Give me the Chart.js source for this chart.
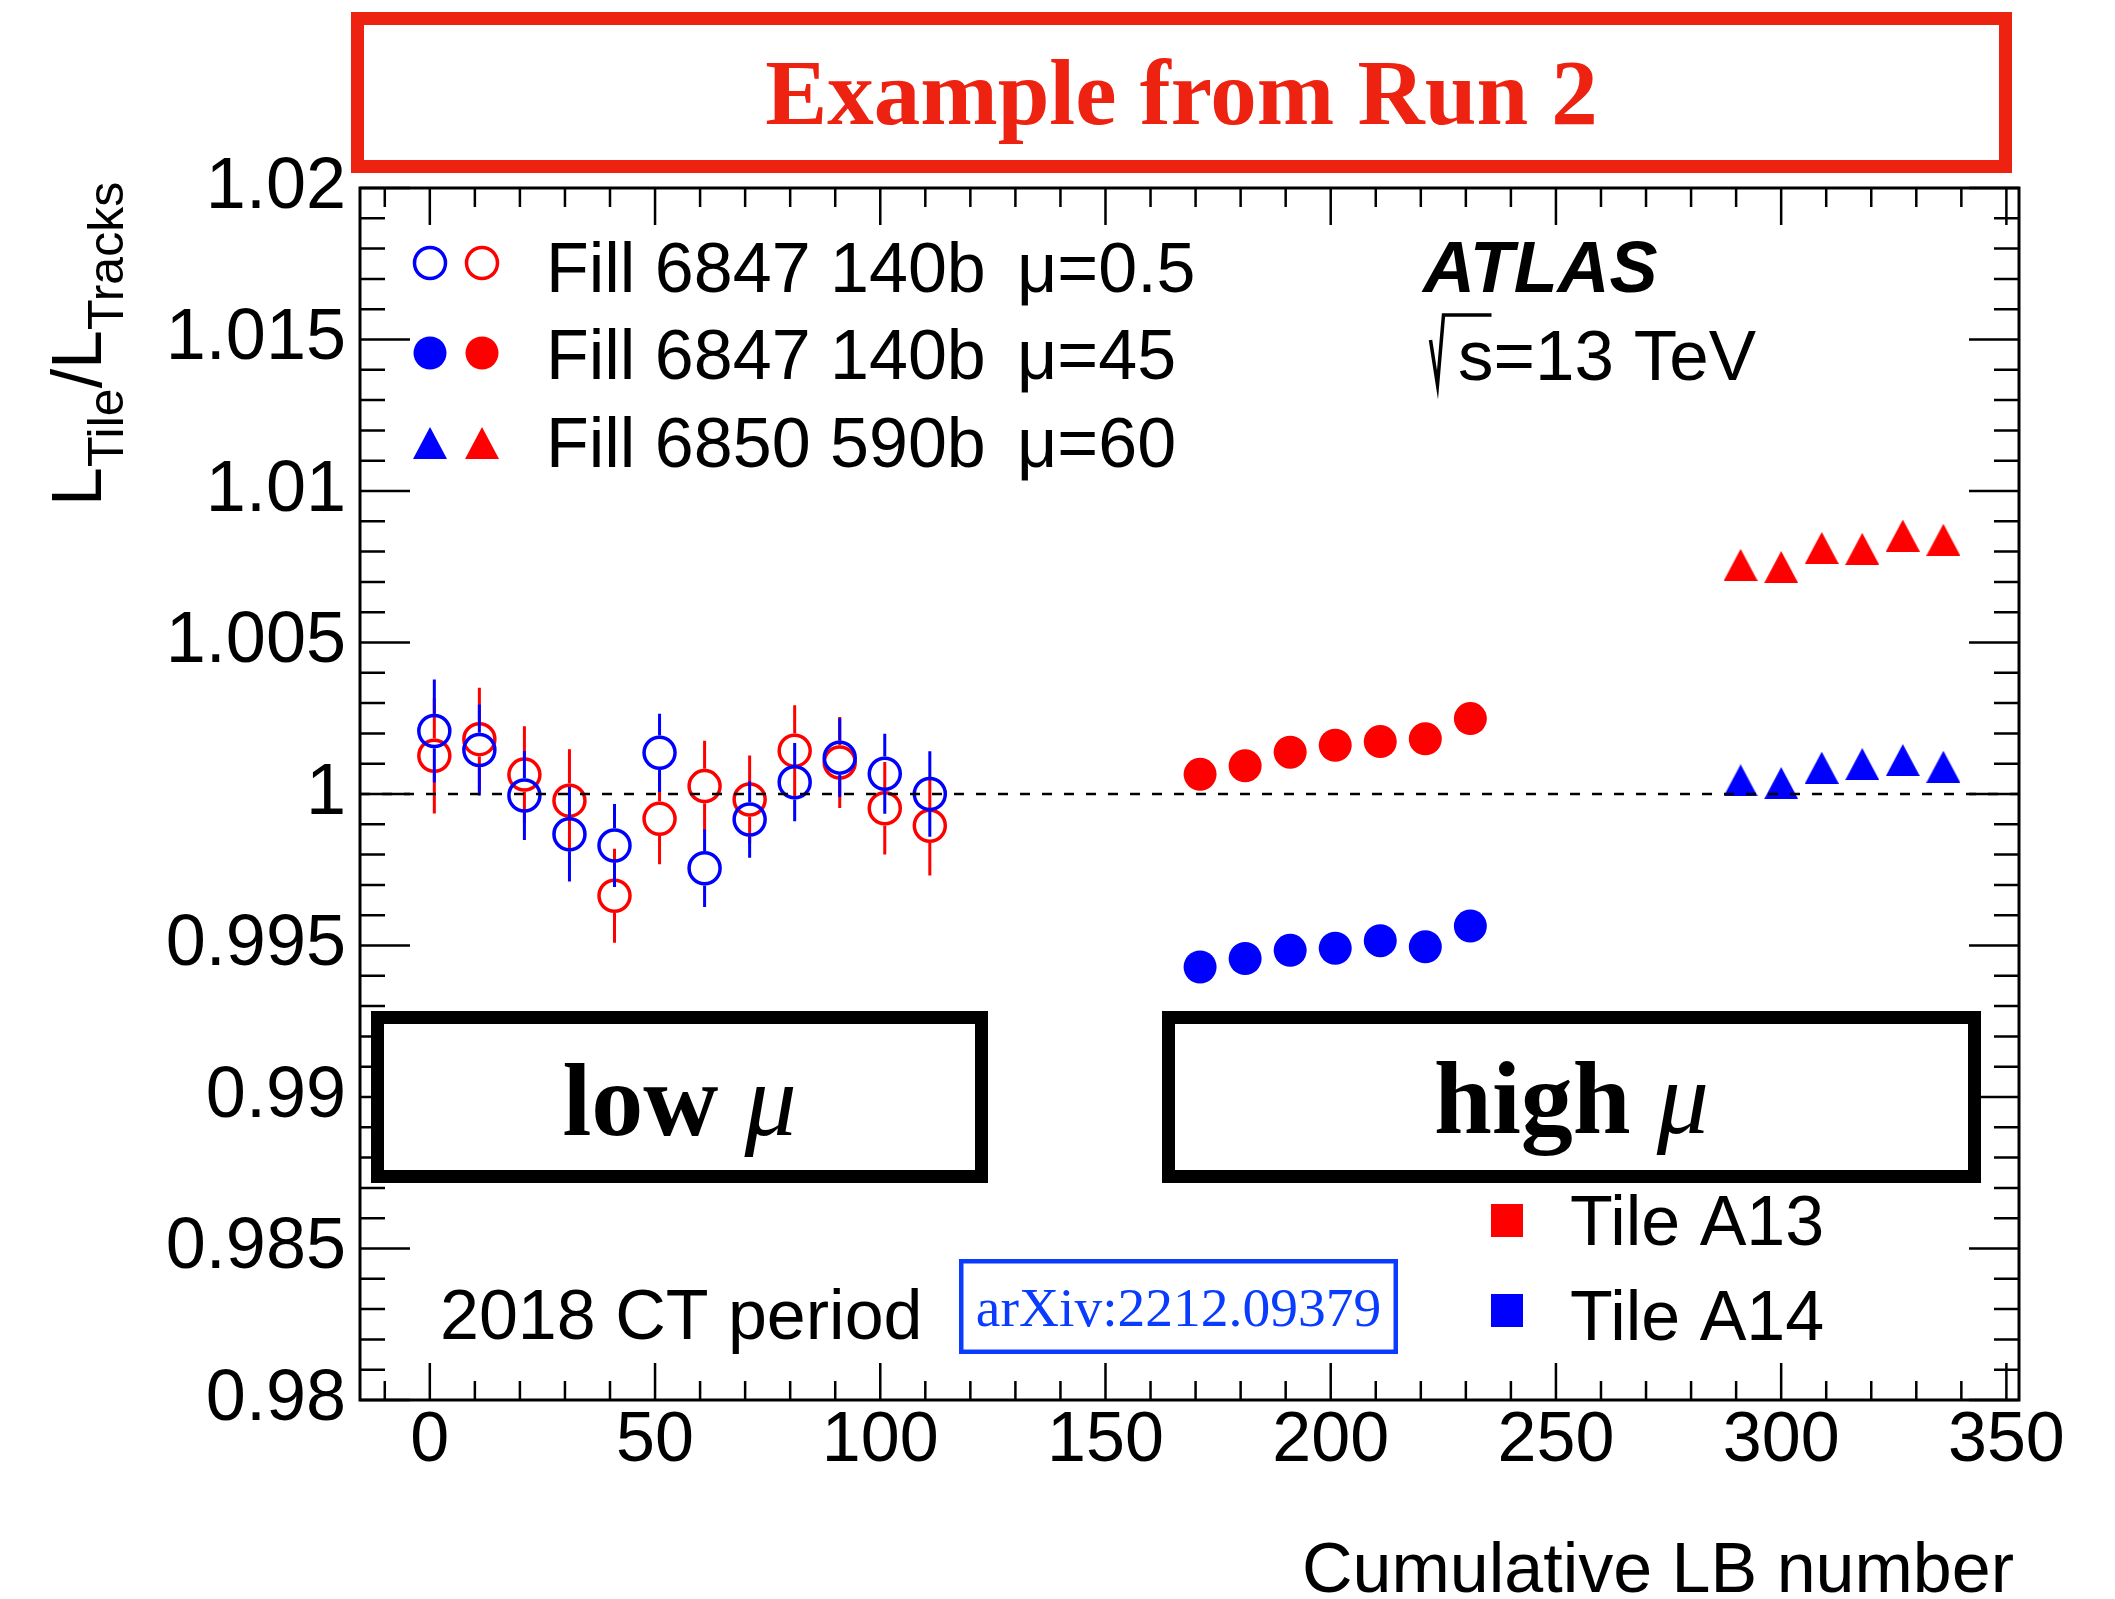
<!DOCTYPE html>
<html>
<head>
<meta charset="utf-8">
<script src="https://cdn.jsdelivr.net/npm/chart.js@4.4.0/dist/chart.umd.min.js"></script>
<style>
  html, body { margin: 0; padding: 0; background: #fff; }
  #wrap { width: 2115px; height: 1599px; }
</style>
</head>
<body>
<div id="wrap"><canvas id="ratioChart" width="2115" height="1599"></canvas></div>
<script>
// low-mu fill 6847 (open markers), cumulative LB
const lowLB = [1, 11, 21, 31, 41, 51, 61, 71, 81, 91, 101, 111];
const lowA13 = [1.00126, 1.00181, 1.00064, 0.99978, 0.99664, 0.99918, 1.00026, 0.99982, 1.00143, 1.00104, 0.99953, 0.99895];
const lowA13Err = [0.0019, 0.0017, 0.0016, 0.0017, 0.00155, 0.0015, 0.0015, 0.00145, 0.0015, 0.0015, 0.00153, 0.00164];
const lowA14 = [1.00208, 1.00145, 0.99995, 0.99867, 0.9983, 1.00136, 0.99755, 0.99916, 1.00039, 1.0012, 1.00067, 1.0];
const lowA14Err = [0.0017, 0.0015, 0.00147, 0.00156, 0.00137, 0.00129, 0.00128, 0.00126, 0.00129, 0.0013, 0.00132, 0.00141];

// high-mu fill 6847 (filled circles)
const midLB = [171, 181, 191, 201, 211, 221, 231];
const midA13 = [1.00065, 1.00093, 1.00138, 1.00161, 1.00173, 1.00182, 1.00249];
const midA14 = [0.99429, 0.99457, 0.99484, 0.99491, 0.99516, 0.99496, 0.99564];

// fill 6850 (triangles)
const highLB = [291, 300, 309, 318, 327, 336];
const highA13 = [1.00756, 1.00749, 1.00812, 1.00809, 1.00853, 1.00839];
const highA14 = [1.00045, 1.00036, 1.00087, 1.00099, 1.00112, 1.0009];

// reference line at 1
const refX = [-15.5, 352.8];
const refY = [1, 1];

const xTickVals = [0, 50, 100, 150, 200, 250, 300, 350];
const xTickLabels = ["0", "50", "100", "150", "200", "250", "300", "350"];
const yTickVals = [0.98, 0.985, 0.99, 0.995, 1, 1.005, 1.01, 1.015, 1.02];
const yTickLabels = ["0.98", "0.985", "0.99", "0.995", "1", "1.005", "1.01", "1.015", "1.02"];

const RED = "#ff0000";
const BLUE = "#0000ff";
const TITLE_RED = "#ee2211";
const ARXIV_BLUE = "#0a3cff";
const SANS = "'Liberation Sans', Arial, Helvetica, sans-serif";
const SERIF = "'Liberation Serif', 'Times New Roman', serif";

function pts(xs, ys) {
  return xs.map((x, i) => ({ x: x, y: ys[i] }));
}

// ROOT-like up triangle, centred on its bounding box
function triangleSprite(color) {
  const c = document.createElement("canvas");
  c.width = 34;
  c.height = 32;
  const g = c.getContext("2d");
  g.fillStyle = color;
  g.beginPath();
  g.moveTo(17, 0);
  g.lineTo(34, 32);
  g.lineTo(0, 32);
  g.closePath();
  g.fill();
  return c;
}
const triRed = triangleSprite(RED);
const triBlue = triangleSprite(BLUE);

const errorBars = {
  id: "errorBars",
  beforeDatasetDraw(chart, args) {
    const ds = chart.data.datasets[args.index];
    if (!ds.errors) return;
    const ctx = chart.ctx;
    const ys = chart.scales.y;
    const gap = ds.pointRadius + ds.borderWidth / 2;
    ctx.save();
    ctx.strokeStyle = ds.borderColor;
    ctx.lineWidth = 3;
    args.meta.data.forEach((el, i) => {
      const v = ds.data[i].y;
      const e = ds.errors[i];
      const yHi = ys.getPixelForValue(v + e);
      const yLo = ys.getPixelForValue(v - e);
      ctx.beginPath();
      ctx.moveTo(el.x, yHi);
      ctx.lineTo(el.x, el.y - gap);
      ctx.moveTo(el.x, el.y + gap);
      ctx.lineTo(el.x, yLo);
      ctx.stroke();
    });
    ctx.restore();
  }
};

// frame with inward ticks on all four sides
const rootFrame = {
  id: "rootFrame",
  afterDatasetsDraw(chart) {
    const ctx = chart.ctx;
    const xs = chart.scales.x, ys = chart.scales.y;
    const { left, right, top, bottom } = chart.chartArea;
    ctx.save();
    ctx.strokeStyle = "#000";
    ctx.lineWidth = 2.5;
    ctx.beginPath();
    for (let v = -10; v <= 350; v += 10) {
      const px = xs.getPixelForValue(v);
      const len = v % 50 === 0 ? 37 : 19;
      ctx.moveTo(px, bottom);
      ctx.lineTo(px, bottom - len);
      ctx.moveTo(px, top);
      ctx.lineTo(px, top + len);
    }
    for (let k = 980; k <= 1020; k++) {
      const py = ys.getPixelForValue(k / 1000);
      const len = k % 5 === 0 ? 50 : 25;
      ctx.moveTo(left, py);
      ctx.lineTo(left + len, py);
      ctx.moveTo(right, py);
      ctx.lineTo(right - len, py);
    }
    ctx.stroke();
    ctx.lineWidth = 3;
    ctx.strokeRect(left, top, right - left, bottom - top);
    ctx.restore();
  }
};

function text(ctx, s, x, y, font, color, align) {
  ctx.font = font;
  ctx.fillStyle = color || "#000";
  ctx.textAlign = align || "left";
  ctx.textBaseline = "alphabetic";
  ctx.fillText(s, x, y);
}

function centredParts(ctx, parts, cx, y, color) {
  let w = 0;
  parts.forEach(p => { ctx.font = p[1]; w += ctx.measureText(p[0]).width; });
  let x = cx - w / 2;
  parts.forEach(p => {
    text(ctx, p[0], x, y, p[1], color);
    ctx.font = p[1];
    x += ctx.measureText(p[0]).width;
  });
}

function box(ctx, x0, y0, x1, y1, lw, color) {
  ctx.save();
  ctx.fillStyle = "#fff";
  ctx.fillRect(x0, y0, x1 - x0, y1 - y0);
  ctx.strokeStyle = color;
  ctx.lineWidth = lw;
  ctx.strokeRect(x0 + lw / 2, y0 + lw / 2, x1 - x0 - lw, y1 - y0 - lw);
  ctx.restore();
}

function openCircle(ctx, x, y, color) {
  ctx.save();
  ctx.strokeStyle = color;
  ctx.lineWidth = 3.5;
  ctx.beginPath();
  ctx.arc(x, y, 15.5, 0, Math.PI * 2);
  ctx.stroke();
  ctx.restore();
}

function dot(ctx, x, y, color) {
  ctx.save();
  ctx.fillStyle = color;
  ctx.beginPath();
  ctx.arc(x, y, 16.5, 0, Math.PI * 2);
  ctx.fill();
  ctx.restore();
}

const annotations = {
  id: "annotations",
  afterDraw(chart) {
    const ctx = chart.ctx;
    ctx.save();

    // header box
    box(ctx, 351, 12, 2012, 173, 13, TITLE_RED);
    text(ctx, "Example from Run 2", 1181.5, 124, "bold 93px " + SERIF, TITLE_RED, "center");

    // y axis title, rotated
    ctx.save();
    ctx.translate(101, 506);
    ctx.rotate(-Math.PI / 2);
    ctx.fillStyle = "#000";
    ctx.textBaseline = "alphabetic";
    ctx.textAlign = "left";
    let tx = 0;
    [["L", 70, 0], ["Tile", 50, 22], ["/", 70, 0], ["L", 70, 0], ["Tracks", 50, 22]].forEach(p => {
      ctx.font = p[1] + "px " + SANS;
      ctx.fillText(p[0], tx, p[2]);
      tx += ctx.measureText(p[0]).width;
    });
    ctx.restore();

    // x axis title
    text(ctx, "Cumulative LB number", 2014, 1592, "70px " + SANS, "#000", "right");

    // legend for fills
    const legFont = "70px " + SANS;
    openCircle(ctx, 430, 263, BLUE);
    openCircle(ctx, 482, 263, RED);
    text(ctx, "Fill 6847 140b", 546, 292, legFont);
    text(ctx, "\u03bc=0.5", 1017, 292, legFont);
    dot(ctx, 430, 353, BLUE);
    dot(ctx, 482, 353, RED);
    text(ctx, "Fill 6847 140b", 546, 379, legFont);
    text(ctx, "\u03bc=45", 1017, 379, legFont);
    ctx.drawImage(triBlue, 430 - 17, 443 - 16);
    ctx.drawImage(triRed, 482 - 17, 443 - 16);
    text(ctx, "Fill 6850 590b", 546, 467, legFont);
    text(ctx, "\u03bc=60", 1017, 467, legFont);

    // ATLAS label
    text(ctx, "ATLAS", 1423, 292, "italic bold 72px " + SANS);
    ctx.save();
    ctx.strokeStyle = "#000";
    ctx.lineWidth = 3.5;
    ctx.lineJoin = "miter";
    ctx.beginPath();
    ctx.moveTo(1430.5, 340);
    ctx.lineTo(1437.5, 385);
    ctx.lineTo(1443.5, 315);
    ctx.lineTo(1491.5, 315);
    ctx.stroke();
    ctx.restore();
    text(ctx, "s=13 TeV", 1458, 380, "71px " + SANS);

    // low / high mu boxes
    box(ctx, 371, 1011, 988, 1183, 13, "#000");
    centredParts(ctx, [["low ", "bold 104px " + SERIF], ["\u03bc", "italic 104px " + SERIF]], 679.5, 1135, "#000");
    box(ctx, 1162, 1011, 1981, 1183, 13, "#000");
    centredParts(ctx, [["high ", "bold 104px " + SERIF], ["\u03bc", "italic 104px " + SERIF]], 1571.5, 1133, "#000");

    // period label and arXiv box
    text(ctx, "2018 CT period", 440, 1339, "70px " + SANS);
    box(ctx, 959, 1259, 1398, 1354, 4.5, ARXIV_BLUE);
    text(ctx, "arXiv:2212.09379", 1178.5, 1326, "55.5px " + SERIF, ARXIV_BLUE, "center");

    // tile legend
    ctx.fillStyle = RED;
    ctx.fillRect(1491, 1204, 32, 33);
    ctx.fillStyle = BLUE;
    ctx.fillRect(1491, 1294, 32, 33);
    text(ctx, "Tile A13", 1570, 1245, "70px " + SANS);
    text(ctx, "Tile A14", 1570, 1340, "70px " + SANS);

    ctx.restore();
  }
};

const openStyle = (color, xs, ys, errs) => ({
  type: "scatter",
  data: pts(xs, ys),
  errors: errs,
  pointStyle: "circle",
  pointRadius: 15.5,
  pointHoverRadius: 15.5,
  borderWidth: 3.5,
  borderColor: color,
  backgroundColor: "rgba(0,0,0,0)",
  showLine: false
});

const filledStyle = (color, xs, ys) => ({
  type: "scatter",
  data: pts(xs, ys),
  pointStyle: "circle",
  pointRadius: 16.5,
  pointHoverRadius: 16.5,
  borderWidth: 0,
  borderColor: color,
  backgroundColor: color,
  showLine: false
});

const triStyle = (sprite, color, xs, ys) => ({
  type: "scatter",
  data: pts(xs, ys),
  pointStyle: sprite,
  pointRadius: 17,
  borderWidth: 0,
  borderColor: color,
  backgroundColor: color,
  showLine: false
});

new Chart(document.getElementById("ratioChart"), {
  type: "scatter",
  data: {
    datasets: [
      {
        type: "line",
        data: pts(refX, refY),
        borderColor: "#000",
        borderWidth: 2.5,
        borderDash: [10, 12],
        pointRadius: 0,
        fill: false
      },
      openStyle(BLUE, lowLB, lowA14, lowA14Err),
      openStyle(RED, lowLB, lowA13, lowA13Err),
      filledStyle(BLUE, midLB, midA14),
      filledStyle(RED, midLB, midA13),
      triStyle(triBlue, BLUE, highLB, highA14),
      triStyle(triRed, RED, highLB, highA13)
    ]
  },
  options: {
    responsive: false,
    animation: false,
    devicePixelRatio: 1,
    layout: {
      padding: { top: 188, right: 96, left: 0, bottom: 0 }
    },
    plugins: {
      legend: { display: false },
      tooltip: { enabled: false }
    },
    scales: {
      x: {
        type: "linear",
        min: refX[0],
        max: refX[1],
        grid: { display: false },
        border: { display: false },
        afterBuildTicks: s => { s.ticks = xTickVals.map(v => ({ value: v })); },
        afterFit: s => { s.height = 199; },
        ticks: {
          autoSkip: false,
          maxRotation: 0,
          padding: 6,
          color: "#000",
          font: { family: SANS, size: 70, lineHeight: 0.8 },
          callback: (v, i) => xTickLabels[i]
        }
      },
      y: {
        min: 0.98,
        max: 1.02,
        grid: { display: false },
        border: { display: false },
        afterBuildTicks: s => { s.ticks = yTickVals.map(v => ({ value: v })); },
        afterFit: s => { s.width = 360; },
        ticks: {
          autoSkip: false,
          padding: 6,
          color: "#000",
          font: { family: SANS, size: 72, lineHeight: 1 },
          callback: (v, i) => yTickLabels[i]
        }
      }
    }
  },
  plugins: [errorBars, rootFrame, annotations]
});
</script>
</body>
</html>
